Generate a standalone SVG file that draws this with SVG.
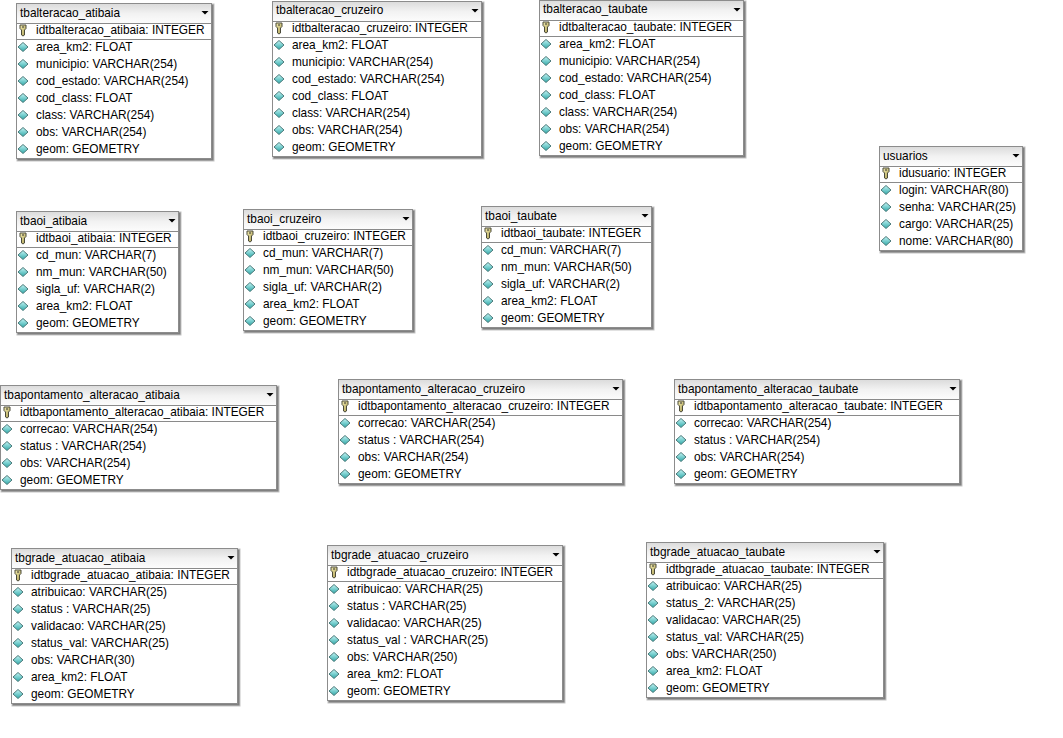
<svg xmlns="http://www.w3.org/2000/svg" width="1063" height="738" viewBox="0 0 1063 738">
<style>
text{font-family:"Liberation Sans",Arial,sans-serif;font-size:11.85px;fill:#000;dominant-baseline:central;transform:translateY(.3px)}
.box{fill:#fff;stroke:#8c8c8c;stroke-width:1}
.shadow{fill:#808080;stroke:#c4c4c4;stroke-width:1}
.head{fill:url(#hg)}
.sep{stroke:#8a8a8a;stroke-width:1}
</style>
<defs>
<linearGradient id="hg" x1="0" y1="0" x2="0" y2="1"><stop offset="0" stop-color="#dcdcdc"/><stop offset=".5" stop-color="#f2f2f2"/><stop offset="1" stop-color="#fcfcfc"/></linearGradient>
<linearGradient id="cg" x1="0" y1="0" x2="0" y2="1"><stop offset="0" stop-color="#c4f6f6"/><stop offset="1" stop-color="#2fa8a8"/></linearGradient>
<linearGradient id="kg" x1="0" y1="0" x2="1" y2="1"><stop offset="0" stop-color="#f4eeb0"/><stop offset="1" stop-color="#a89a50"/></linearGradient>
<g id="key"><path d="M-3-5H3V-1.500L1.500 0V5L0 6-1.500 5V0L-3-1.500Z" fill="url(#kg)" stroke="#4a4a3a" stroke-width="1"/><path d="M-1-3H1" stroke="#333" stroke-width="1"/></g>
<path id="col" d="M0-4.500 5 0 0 4.500-5 0Z" fill="url(#cg)" stroke="#4c7a7a" stroke-width="1"/>
<path id="arr" d="M-3.500 0H3.500L0 3.500Z" fill="#000"/>
</defs>
<rect width="1063" height="738" fill="#fff"/>
<g id="connectors"/>
<g id="tbalteracao_atibaia" transform="translate(16,3)"><rect class="shadow" x="1" y="1" width="197" height="157"/><rect class="box" x=".5" y=".5" width="195" height="155"/><rect class="head" x="1" y="1" width="194" height="19"/><path class="sep" d="M1 20.500H195M1 36.500H195"/><use href="#arr" x="189" y="8"/><text x="4" y="10">tbalteracao_atibaia</text><use href="#key" x="7" y="27"/><text x="20" y="27">idtbalteracao_atibaia: INTEGER</text><use href="#col" x="7" y="44"/><text x="20" y="44">area_km2: FLOAT</text><use href="#col" x="7" y="61"/><text x="20" y="61">municipio: VARCHAR(254)</text><use href="#col" x="7" y="78"/><text x="20" y="78">cod_estado: VARCHAR(254)</text><use href="#col" x="7" y="95"/><text x="20" y="95">cod_class: FLOAT</text><use href="#col" x="7" y="112"/><text x="20" y="112">class: VARCHAR(254)</text><use href="#col" x="7" y="129"/><text x="20" y="129">obs: VARCHAR(254)</text><use href="#col" x="7" y="146"/><text x="20" y="146">geom: GEOMETRY</text></g>
<g id="tbalteracao_cruzeiro" transform="translate(272,1)"><rect class="shadow" x="1" y="1" width="211" height="157"/><rect class="box" x=".5" y=".5" width="209" height="155"/><rect class="head" x="1" y="1" width="208" height="19"/><path class="sep" d="M1 20.500H209M1 36.500H209"/><use href="#arr" x="203" y="8"/><text x="4" y="9">tbalteracao_cruzeiro</text><use href="#key" x="7" y="27"/><text x="20" y="27">idtbalteracao_cruzeiro: INTEGER</text><use href="#col" x="7" y="44"/><text x="20" y="44">area_km2: FLOAT</text><use href="#col" x="7" y="61"/><text x="20" y="61">municipio: VARCHAR(254)</text><use href="#col" x="7" y="78"/><text x="20" y="78">cod_estado: VARCHAR(254)</text><use href="#col" x="7" y="95"/><text x="20" y="95">cod_class: FLOAT</text><use href="#col" x="7" y="112"/><text x="20" y="112">class: VARCHAR(254)</text><use href="#col" x="7" y="129"/><text x="20" y="129">obs: VARCHAR(254)</text><use href="#col" x="7" y="146"/><text x="20" y="146">geom: GEOMETRY</text></g>
<g id="tbalteracao_taubate" transform="translate(539,0)"><rect class="shadow" x="1" y="1" width="206" height="157"/><rect class="box" x=".5" y=".5" width="204" height="155"/><rect class="head" x="1" y="1" width="203" height="19"/><path class="sep" d="M1 20.500H204M1 36.500H204"/><use href="#arr" x="198" y="8"/><text x="4" y="9">tbalteracao_taubate</text><use href="#key" x="7" y="27"/><text x="20" y="27">idtbalteracao_taubate: INTEGER</text><use href="#col" x="7" y="44"/><text x="20" y="44">area_km2: FLOAT</text><use href="#col" x="7" y="61"/><text x="20" y="61">municipio: VARCHAR(254)</text><use href="#col" x="7" y="78"/><text x="20" y="78">cod_estado: VARCHAR(254)</text><use href="#col" x="7" y="95"/><text x="20" y="95">cod_class: FLOAT</text><use href="#col" x="7" y="112"/><text x="20" y="112">class: VARCHAR(254)</text><use href="#col" x="7" y="129"/><text x="20" y="129">obs: VARCHAR(254)</text><use href="#col" x="7" y="146"/><text x="20" y="146">geom: GEOMETRY</text></g>
<g id="usuarios" transform="translate(879,146)"><rect class="shadow" x="1" y="1" width="145" height="106"/><rect class="box" x=".5" y=".5" width="143" height="104"/><rect class="head" x="1" y="1" width="142" height="19"/><path class="sep" d="M1 20.500H143M1 36.500H143"/><use href="#arr" x="137" y="8"/><text x="4" y="10">usuarios</text><use href="#key" x="7" y="27"/><text x="20" y="27">idusuario: INTEGER</text><use href="#col" x="7" y="44"/><text x="20" y="44">login: VARCHAR(80)</text><use href="#col" x="7" y="61"/><text x="20" y="61">senha: VARCHAR(25)</text><use href="#col" x="7" y="78"/><text x="20" y="78">cargo: VARCHAR(25)</text><use href="#col" x="7" y="95"/><text x="20" y="95">nome: VARCHAR(80)</text></g>
<g id="tbaoi_atibaia" transform="translate(16,211)"><rect class="shadow" x="1" y="1" width="164" height="123"/><rect class="box" x=".5" y=".5" width="162" height="121"/><rect class="head" x="1" y="1" width="161" height="19"/><path class="sep" d="M1 20.500H162M1 36.500H162"/><use href="#arr" x="156" y="8"/><text x="4" y="9.500">tbaoi_atibaia</text><use href="#key" x="7" y="27"/><text x="20" y="27">idtbaoi_atibaia: INTEGER</text><use href="#col" x="7" y="44"/><text x="20" y="44">cd_mun: VARCHAR(7)</text><use href="#col" x="7" y="61"/><text x="20" y="61">nm_mun: VARCHAR(50)</text><use href="#col" x="7" y="78"/><text x="20" y="78">sigla_uf: VARCHAR(2)</text><use href="#col" x="7" y="95"/><text x="20" y="95">area_km2: FLOAT</text><use href="#col" x="7" y="112"/><text x="20" y="112">geom: GEOMETRY</text></g>
<g id="tbaoi_cruzeiro" transform="translate(243,209)"><rect class="shadow" x="1" y="1" width="171" height="123"/><rect class="box" x=".5" y=".5" width="169" height="121"/><rect class="head" x="1" y="1" width="168" height="19"/><path class="sep" d="M1 20.500H169M1 36.500H169"/><use href="#arr" x="163" y="8"/><text x="4" y="9.500">tbaoi_cruzeiro</text><use href="#key" x="7" y="27"/><text x="20" y="27">idtbaoi_cruzeiro: INTEGER</text><use href="#col" x="7" y="44"/><text x="20" y="44">cd_mun: VARCHAR(7)</text><use href="#col" x="7" y="61"/><text x="20" y="61">nm_mun: VARCHAR(50)</text><use href="#col" x="7" y="78"/><text x="20" y="78">sigla_uf: VARCHAR(2)</text><use href="#col" x="7" y="95"/><text x="20" y="95">area_km2: FLOAT</text><use href="#col" x="7" y="112"/><text x="20" y="112">geom: GEOMETRY</text></g>
<g id="tbaoi_taubate" transform="translate(481,206)"><rect class="shadow" x="1" y="1" width="172" height="123"/><rect class="box" x=".5" y=".5" width="170" height="121"/><rect class="head" x="1" y="1" width="169" height="19"/><path class="sep" d="M1 20.500H170M1 36.500H170"/><use href="#arr" x="164" y="8"/><text x="4" y="10">tbaoi_taubate</text><use href="#key" x="7" y="27"/><text x="20" y="27">idtbaoi_taubate: INTEGER</text><use href="#col" x="7" y="44"/><text x="20" y="44">cd_mun: VARCHAR(7)</text><use href="#col" x="7" y="61"/><text x="20" y="61">nm_mun: VARCHAR(50)</text><use href="#col" x="7" y="78"/><text x="20" y="78">sigla_uf: VARCHAR(2)</text><use href="#col" x="7" y="95"/><text x="20" y="95">area_km2: FLOAT</text><use href="#col" x="7" y="112"/><text x="20" y="112">geom: GEOMETRY</text></g>
<g id="tbapontamento_alteracao_atibaia" transform="translate(0,385)"><rect class="shadow" x="1" y="1" width="278" height="106"/><rect class="box" x=".5" y=".5" width="276" height="104"/><rect class="head" x="1" y="1" width="275" height="19"/><path class="sep" d="M1 20.500H276M1 36.500H276"/><use href="#arr" x="270" y="8"/><text x="4" y="10">tbapontamento_alteracao_atibaia</text><use href="#key" x="7" y="27"/><text x="20" y="27">idtbapontamento_alteracao_atibaia: INTEGER</text><use href="#col" x="7" y="44"/><text x="20" y="44">correcao: VARCHAR(254)</text><use href="#col" x="7" y="61"/><text x="20" y="61">status : VARCHAR(254)</text><use href="#col" x="7" y="78"/><text x="20" y="78">obs: VARCHAR(254)</text><use href="#col" x="7" y="95"/><text x="20" y="95">geom: GEOMETRY</text></g>
<g id="tbapontamento_alteracao_cruzeiro" transform="translate(338,379)"><rect class="shadow" x="1" y="1" width="286" height="106"/><rect class="box" x=".5" y=".5" width="284" height="104"/><rect class="head" x="1" y="1" width="283" height="19"/><path class="sep" d="M1 20.500H284M1 36.500H284"/><use href="#arr" x="278" y="8"/><text x="4" y="10">tbapontamento_alteracao_cruzeiro</text><use href="#key" x="7" y="27"/><text x="20" y="27">idtbapontamento_alteracao_cruzeiro: INTEGER</text><use href="#col" x="7" y="44"/><text x="20" y="44">correcao: VARCHAR(254)</text><use href="#col" x="7" y="61"/><text x="20" y="61">status : VARCHAR(254)</text><use href="#col" x="7" y="78"/><text x="20" y="78">obs: VARCHAR(254)</text><use href="#col" x="7" y="95"/><text x="20" y="95">geom: GEOMETRY</text></g>
<g id="tbapontamento_alteracao_taubate" transform="translate(674,379)"><rect class="shadow" x="1" y="1" width="287" height="106"/><rect class="box" x=".5" y=".5" width="285" height="104"/><rect class="head" x="1" y="1" width="284" height="19"/><path class="sep" d="M1 20.500H285M1 36.500H285"/><use href="#arr" x="279" y="8"/><text x="4" y="10">tbapontamento_alteracao_taubate</text><use href="#key" x="7" y="27"/><text x="20" y="27">idtbapontamento_alteracao_taubate: INTEGER</text><use href="#col" x="7" y="44"/><text x="20" y="44">correcao: VARCHAR(254)</text><use href="#col" x="7" y="61"/><text x="20" y="61">status : VARCHAR(254)</text><use href="#col" x="7" y="78"/><text x="20" y="78">obs: VARCHAR(254)</text><use href="#col" x="7" y="95"/><text x="20" y="95">geom: GEOMETRY</text></g>
<g id="tbgrade_atuacao_atibaia" transform="translate(11,548)"><rect class="shadow" x="1" y="1" width="228" height="157"/><rect class="box" x=".5" y=".5" width="226" height="155"/><rect class="head" x="1" y="1" width="225" height="19"/><path class="sep" d="M1 20.500H226M1 36.500H226"/><use href="#arr" x="220" y="8"/><text x="4" y="10">tbgrade_atuacao_atibaia</text><use href="#key" x="7" y="27"/><text x="20" y="27">idtbgrade_atuacao_atibaia: INTEGER</text><use href="#col" x="7" y="44"/><text x="20" y="44">atribuicao: VARCHAR(25)</text><use href="#col" x="7" y="61"/><text x="20" y="61">status : VARCHAR(25)</text><use href="#col" x="7" y="78"/><text x="20" y="78">validacao: VARCHAR(25)</text><use href="#col" x="7" y="95"/><text x="20" y="95">status_val: VARCHAR(25)</text><use href="#col" x="7" y="112"/><text x="20" y="112">obs: VARCHAR(30)</text><use href="#col" x="7" y="129"/><text x="20" y="129">area_km2: FLOAT</text><use href="#col" x="7" y="146"/><text x="20" y="146">geom: GEOMETRY</text></g>
<g id="tbgrade_atuacao_cruzeiro" transform="translate(327,545)"><rect class="shadow" x="1" y="1" width="237" height="157"/><rect class="box" x=".5" y=".5" width="235" height="155"/><rect class="head" x="1" y="1" width="234" height="19"/><path class="sep" d="M1 20.500H235M1 36.500H235"/><use href="#arr" x="229" y="8"/><text x="4" y="10">tbgrade_atuacao_cruzeiro</text><use href="#key" x="7" y="27"/><text x="20" y="27">idtbgrade_atuacao_cruzeiro: INTEGER</text><use href="#col" x="7" y="44"/><text x="20" y="44">atribuicao: VARCHAR(25)</text><use href="#col" x="7" y="61"/><text x="20" y="61">status : VARCHAR(25)</text><use href="#col" x="7" y="78"/><text x="20" y="78">validacao: VARCHAR(25)</text><use href="#col" x="7" y="95"/><text x="20" y="95">status_val : VARCHAR(25)</text><use href="#col" x="7" y="112"/><text x="20" y="112">obs: VARCHAR(250)</text><use href="#col" x="7" y="129"/><text x="20" y="129">area_km2: FLOAT</text><use href="#col" x="7" y="146"/><text x="20" y="146">geom: GEOMETRY</text></g>
<g id="tbgrade_atuacao_taubate" transform="translate(646,542)"><rect class="shadow" x="1" y="1" width="239" height="157"/><rect class="box" x=".5" y=".5" width="237" height="155"/><rect class="head" x="1" y="1" width="236" height="19"/><path class="sep" d="M1 20.500H237M1 36.500H237"/><use href="#arr" x="231" y="8"/><text x="4" y="10">tbgrade_atuacao_taubate</text><use href="#key" x="7" y="27"/><text x="20" y="27">idtbgrade_atuacao_taubate: INTEGER</text><use href="#col" x="7" y="44"/><text x="20" y="44">atribuicao: VARCHAR(25)</text><use href="#col" x="7" y="61"/><text x="20" y="61">status_2: VARCHAR(25)</text><use href="#col" x="7" y="78"/><text x="20" y="78">validacao: VARCHAR(25)</text><use href="#col" x="7" y="95"/><text x="20" y="95">status_val: VARCHAR(25)</text><use href="#col" x="7" y="112"/><text x="20" y="112">obs: VARCHAR(250)</text><use href="#col" x="7" y="129"/><text x="20" y="129">area_km2: FLOAT</text><use href="#col" x="7" y="146"/><text x="20" y="146">geom: GEOMETRY</text></g>
</svg>
